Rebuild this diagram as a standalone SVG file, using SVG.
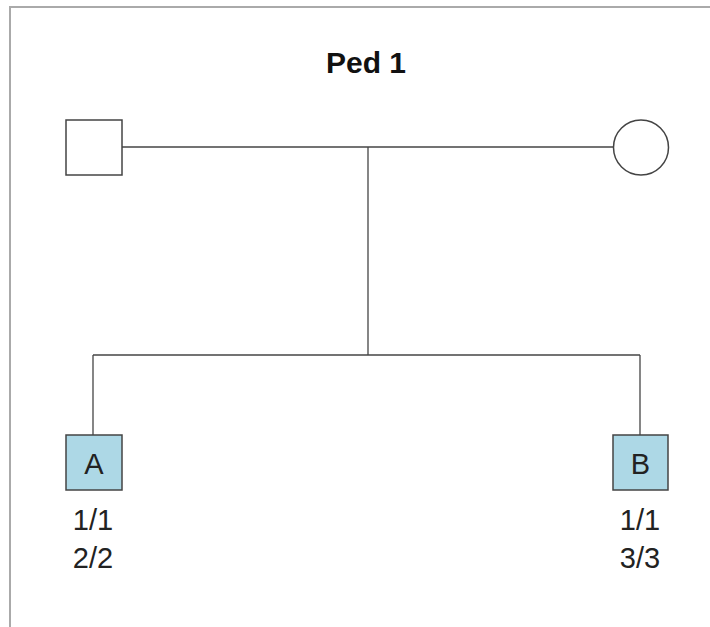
<svg xmlns="http://www.w3.org/2000/svg" width="710" height="627" viewBox="0 0 710 627">
<style>
.frame{fill:none;stroke:#aaaaaa;stroke-width:2}
.ind{stroke:#444;stroke-width:1.5}
.lbl{font-family:"Liberation Sans",Arial,sans-serif;font-size:29px;fill:#222;text-anchor:middle}
.line{stroke:#444;stroke-width:1.3;fill:none}
</style>
<rect width="710" height="627" fill="#fff"/>
<path class="frame" d="M10,627 V7 H710"/>
<text x="366" y="73" font-family="'Liberation Sans',Arial,sans-serif" font-size="30" font-weight="bold" text-anchor="middle" fill="#111">Ped 1</text>
<g id="connectors">
<path class="line" d="M122,147 H613"/>
<path class="line" d="M368,147 V355"/>
<path class="line" d="M93,355 H640"/>
<path class="line" d="M93,355 V435"/>
<path class="line" d="M640,355 V435"/>
</g>
<g id="father"><rect class="ind" x="66" y="120" width="56" height="55" fill="#fff"/></g>
<g id="mother"><ellipse class="ind" cx="641" cy="147.5" rx="27.5" ry="27.5" fill="#fff"/></g>
<g id="childA">
<rect class="ind" x="66" y="435" width="56" height="55" fill="#add8e6"/>
<text class="lbl" x="94" y="473.5">A</text>
<text class="lbl" x="93" y="530">1/1</text>
<text class="lbl" x="93" y="568">2/2</text>
</g>
<g id="childB">
<rect class="ind" x="613" y="435" width="55" height="55" fill="#add8e6"/>
<text class="lbl" x="640.5" y="473.5">B</text>
<text class="lbl" x="640" y="530">1/1</text>
<text class="lbl" x="640" y="568">3/3</text>
</g>
</svg>
